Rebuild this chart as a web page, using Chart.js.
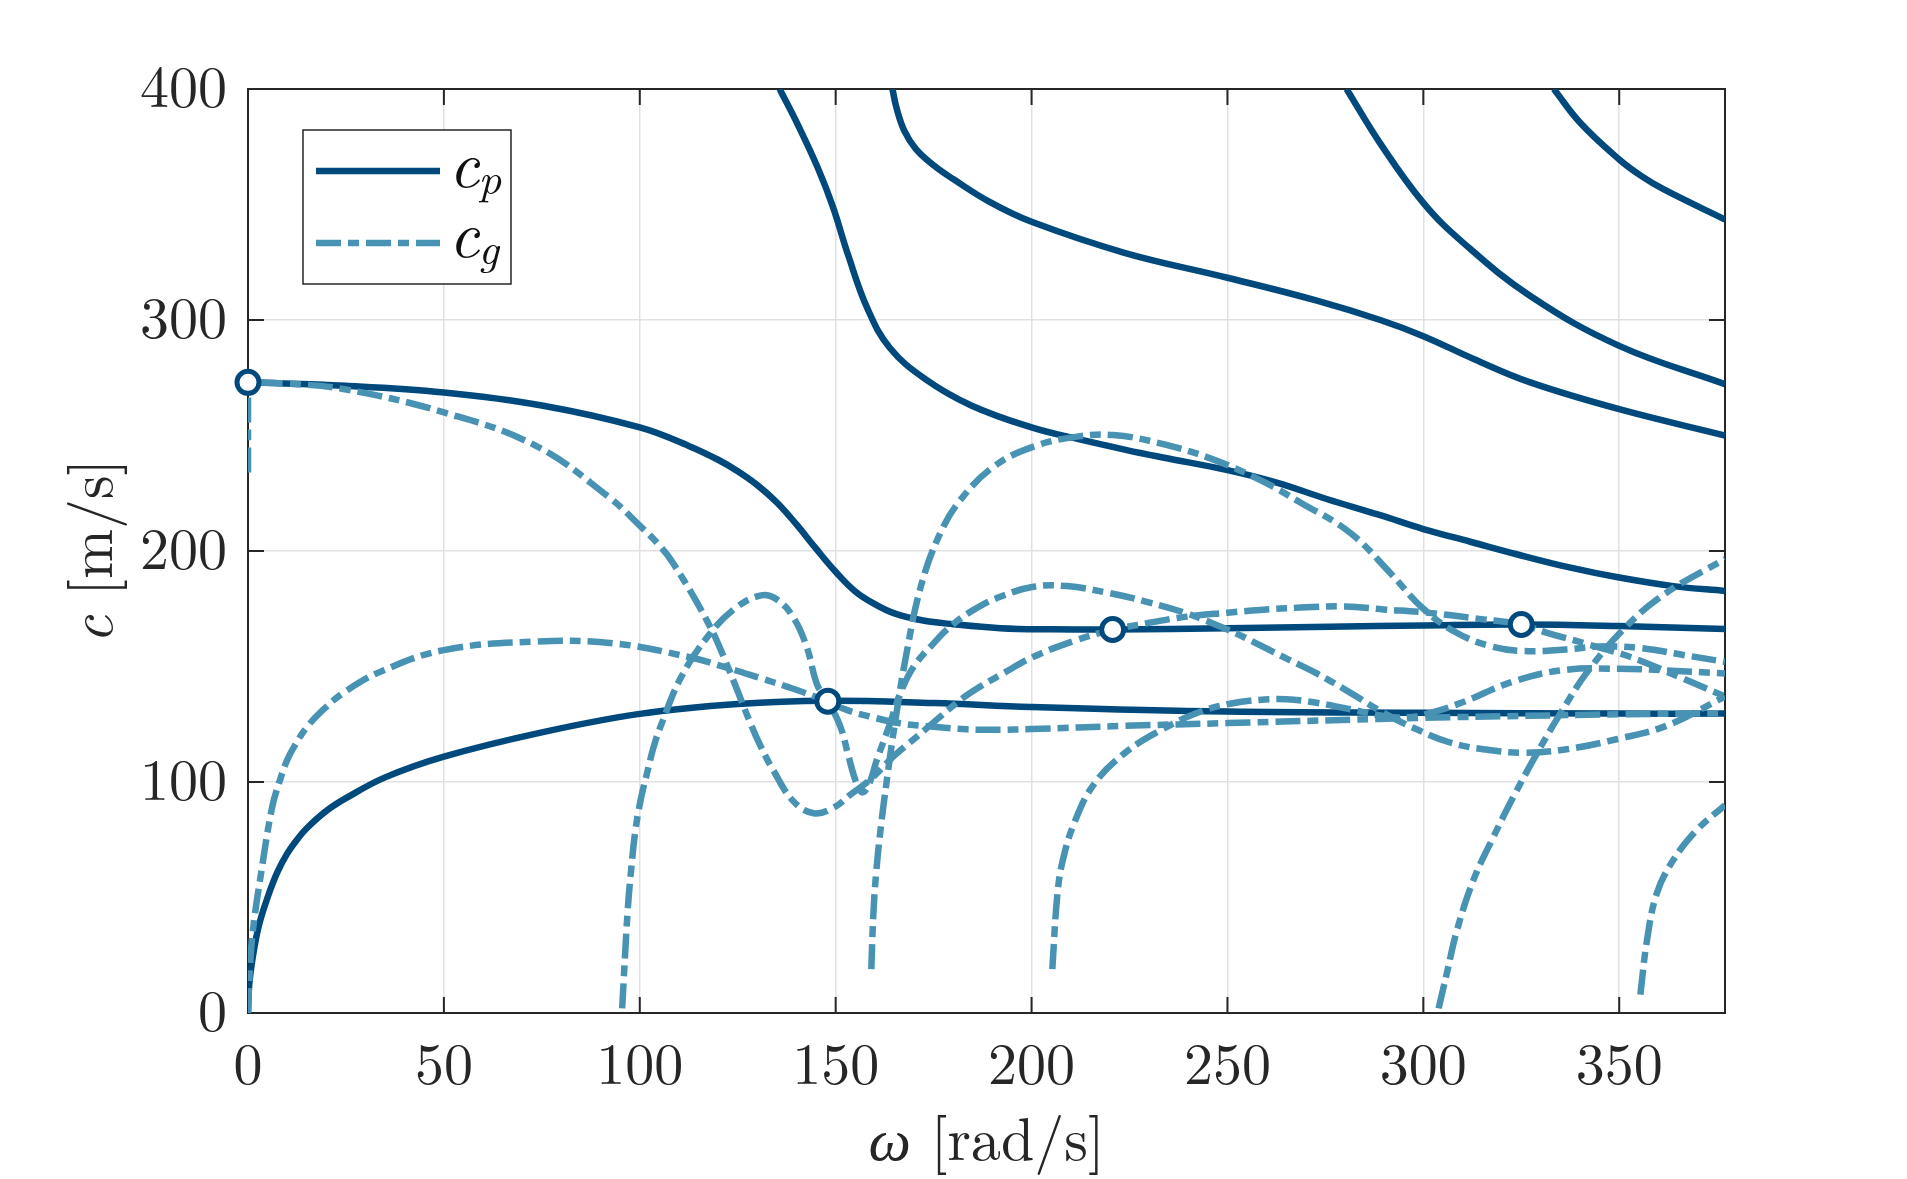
<!DOCTYPE html>
<html>
<head>
<meta charset="utf-8">
<title>Phase and group velocity</title>
<script src="https://cdn.jsdelivr.net/npm/chart.js@4.4.1/dist/chart.umd.min.js"></script>
<style>
  html, body { margin: 0; padding: 0; background: #fff; }
  canvas { display: block; }
</style>
</head>
<body>
<canvas id="velocityChart" width="1907" height="1179"></canvas>
<script>
// phase velocity branches c_p, pairs of [omega, c]
const cp1 = [[0,0],[0.3,12],[1.3,25],[2.8,38],[5.2,51],[7.5,61],[10,69],[12.5,75],[15,80],[20,87.5],[25,93],[35,102],[50,111],[75,121.5],[100,129.5],[125,133.8],[148,135.2],[175,134.2],[200,132.5],[250,130.5],[300,130],[350,129.6],[377,129.6]];
const cp2 = [[0,273],[25,271.5],[50,268.6],[75,263],[100,253.5],[112.5,245.5],[120,239.5],[125,234.5],[130,228.5],[135,221],[140,211.5],[145,201],[150,191],[155,182.5],[160,177],[165,173],[172,170],[180,168.3],[192,166.6],[205,166.1],[221,166],[250,166.6],[276,167.2],[300,167.8],[325,168.2],[350,167.5],[377,166.2]];
const cp3 = [[135.7,400],[140.5,384],[145.4,366],[149.3,349],[153.2,328],[158.1,305],[163.8,288],[172.8,274.5],[184.6,263],[200,253.5],[212,248.4],[224.3,243.7],[233.5,240.5],[250,235],[262.8,229.5],[275.3,222.5],[289,215.5],[300,209.5],[312,204],[323.8,198.6],[337,193],[350,188.5],[363.8,184.8],[377,182.7]];
const cp4 = [[164.5,400],[165.5,392],[167.5,382],[170.5,374],[175,367],[180,361],[189.4,351],[200,342.5],[223.7,329.1],[250,318.3],[272.6,308.5],[289,300],[300,293],[313,283],[327.3,273],[350,261.4],[377,250]];
const cp5 = [[280.4,400],[288.9,376.7],[300,350.7],[310.2,333.4],[327.3,310.4],[350,288.8],[377,272.2]];
const cp6 = [[333.3,400],[340.1,385.3],[350,369.5],[355.5,362.5],[361.4,356.5],[377,343.5]];

// group velocity branches c_g
const cg1 = [[0,234],[0,273],[0.2,273],[10,272.5],[24.7,270],[50,260],[73.5,245.5],[92,223.5],[100,211],[104.7,203],[108.6,194.5],[117.4,169],[122.2,151],[128.1,126],[130.7,116],[134.1,105],[139.3,91.5],[144.4,86.5],[149.5,88.9],[153.8,94.6],[158.8,101],[164.7,111],[170.7,119.6],[176.7,128.3],[181.8,135.5],[186.9,141.3],[192,146.3],[200.5,154.2],[211.6,161.5],[220.5,165.8],[229.4,168.7],[239.6,171.6],[250.1,173.3],[258.4,174.5],[268.6,175.5],[280,176],[289.8,174.7],[300,173.5],[315.3,170.4],[325,168.2],[331.6,164.6],[341,160.1],[352.9,154.1],[365.7,145.2],[377,137]];
const cg2 = [[0,0],[0.5,20],[1.3,36.5],[3.2,59],[6.1,88.6],[8,100],[10,109.5],[12,116],[14.9,123.5],[19,131],[24.7,139],[34.4,148.2],[50,157.1],[73.5,160.8],[93,160.1],[112.5,154.1],[122.2,149.5],[130.7,145],[137.5,141.3],[144.8,136.9],[152.8,131.2],[158.8,128.3],[166.5,125.4],[175,123.9],[183.5,122.8],[192,122.6],[200,122.9],[223.7,124.3],[250,125.5],[289,127.3],[300,127.8],[350,129.3],[377,129.8]];
const cg3 = [[95.5,2],[96.9,44],[97.8,62],[98.8,78],[100.2,92],[101.8,103.5],[103.6,115.5],[105.7,125.8],[110.5,145.2],[117.4,163.1],[124.2,175],[131,180.8],[135,179],[139.3,171],[142.7,158],[145.3,142],[148,135],[151.2,124],[153.3,111],[155.2,100],[156.8,95.5],[158.5,99],[160.5,109.5],[163.9,125.4],[166.5,138.4],[169.9,149.9],[175,160],[179.2,167.2],[185.2,174.5],[192,180.2],[200.5,184.5],[209,184.8],[220.1,181.7],[229.4,178],[239.6,173],[250,166],[258,159.5],[265,153.5],[272.8,147],[281.3,138.7],[289.8,130],[298.3,122.8],[306.8,117.1],[315.3,114.2],[325.5,112.7],[336.6,114.2],[349.3,118.5],[362,124.3],[377,137]];
const cg4 = [[159.1,19],[159.6,42],[160.3,60],[161.5,80],[163,100],[165,124],[167.9,154],[171.8,185],[176.7,207.7],[181.8,222],[190.3,236.5],[200.5,245.2],[211.6,249.5],[220.9,250.2],[232.8,246.6],[245.6,240.1],[258.4,230.7],[268.6,221],[281.3,207.9],[291.5,190.6],[300,175],[308.5,164.6],[317,158.9],[325.5,156.7],[336.6,157.4],[345.1,158.7],[355.3,158],[366.3,155],[377,152]];
const cg5 = [[303.9,2],[306,17.2],[308.6,35.9],[312.8,57.6],[317.9,76.3],[323,93.6],[329,112.4],[335,129.7],[342,148],[351.9,167.5],[362.1,182],[377,196.5]];
const cg6 = [[205.3,19],[206.6,51.4],[208,66.3],[211,82.7],[215.9,99],[223.7,112.4],[233.5,122.9],[243.2,130.5],[251,134],[258,135.5],[265,135.8],[272,134.5],[281.3,131.5],[289.8,128.6],[296,128],[302,130],[310,134.5],[323,143.5],[336,148.5],[350,149],[362,148.3],[377,147]];
const cg7 = [[355.4,8],[357.1,31.6],[359.6,51.8],[363.8,66.2],[369.8,79.2],[377,90]];

// points where c_g = c_p
const markerOmega = [0, 148, 220.7, 325];
const markerSpeed = [273, 135, 166, 168.2];

const xTicks = [0, 50, 100, 150, 200, 250, 300, 350];
const yTicks = [0, 100, 200, 300, 400];
const omegaMax = 377;

const darkBlue = '#00497c';
const lightBlue = '#4892b4';
const axisColor = '#262626';
const gridColor = '#e1e1e1';
const serif = "'Latin Modern Roman', 'Liberation Serif', 'DejaVu Serif', serif";
const dashDot = [25, 7, 11, 7];
const lineW = 6.5;

function toPoints(arr) {
    return arr.map(p => ({ x: p[0], y: p[1] }));
}

const solidSets = [cp1, cp2, cp3, cp4, cp5, cp6].map(d => ({
    data: toPoints(d),
    borderColor: darkBlue,
    borderWidth: lineW,
    pointRadius: 0,
    fill: false,
    tension: 0.4
}));

const dashedSets = [cg1, cg2, cg3, cg4, cg5, cg6, cg7].map(d => ({
    data: toPoints(d),
    borderColor: lightBlue,
    borderWidth: lineW,
    borderDash: dashDot,
    pointRadius: 0,
    fill: false,
    tension: 0.4
}));

const markerSet = {
    data: markerOmega.map((x, i) => ({ x: x, y: markerSpeed[i] })),
    showLine: false,
    pointRadius: 11,
    pointBorderWidth: 5,
    pointBackgroundColor: '#ffffff',
    pointBorderColor: darkBlue,
    clip: false
};

// box, inward ticks, axis titles and legend (MATLAB look)
const framePlugin = {
    id: 'frame',
    beforeDatasetsDraw(chart) {
        const { ctx, chartArea: a, scales } = chart;
        ctx.save();
        ctx.strokeStyle = axisColor;
        ctx.lineWidth = 2;
        ctx.strokeRect(a.left, a.top, a.right - a.left, a.bottom - a.top);
        ctx.beginPath();
        xTicks.forEach(v => {
            const px = scales.x.getPixelForValue(v);
            ctx.moveTo(px, a.bottom); ctx.lineTo(px, a.bottom - 16);
            ctx.moveTo(px, a.top); ctx.lineTo(px, a.top + 16);
        });
        yTicks.forEach(v => {
            const py = scales.y.getPixelForValue(v);
            ctx.moveTo(a.left, py); ctx.lineTo(a.left + 16, py);
            ctx.moveTo(a.right, py); ctx.lineTo(a.right - 16, py);
        });
        ctx.stroke();
        ctx.restore();
    },
    afterDraw(chart) {
        const { ctx, chartArea: a } = chart;
        ctx.save();
        ctx.fillStyle = axisColor;
        ctx.textBaseline = 'alphabetic';

        // x title: ω [rad/s]
        const italic = 'italic 60px ' + serif;
        const roman = '60px ' + serif;
        ctx.font = italic;
        const wOmega = ctx.measureText('ω').width;
        ctx.font = roman;
        const wRest = ctx.measureText(' [rad/s]').width;
        const x0 = (a.left + a.right) / 2 - (wOmega + wRest) / 2;
        ctx.font = italic;
        ctx.fillText('ω', x0, 1160);
        ctx.font = roman;
        ctx.fillText(' [rad/s]', x0 + wOmega, 1160);

        // y title: c [m/s]
        ctx.save();
        ctx.translate(112, (a.top + a.bottom) / 2);
        ctx.rotate(-Math.PI / 2);
        ctx.font = italic;
        const wC = ctx.measureText('c').width;
        ctx.font = roman;
        const wUnit = ctx.measureText(' [m/s]').width;
        const y0 = -(wC + wUnit) / 2;
        ctx.font = italic;
        ctx.fillText('c', y0, 0);
        ctx.font = roman;
        ctx.fillText(' [m/s]', y0 + wC, 0);
        ctx.restore();

        // legend
        ctx.fillStyle = '#ffffff';
        ctx.fillRect(303, 130, 208, 154);
        ctx.strokeStyle = axisColor;
        ctx.lineWidth = 1.5;
        ctx.strokeRect(303, 130, 208, 154);

        ctx.lineWidth = lineW;
        ctx.strokeStyle = darkBlue;
        ctx.beginPath(); ctx.moveTo(316, 171); ctx.lineTo(440, 171); ctx.stroke();
        ctx.strokeStyle = lightBlue;
        ctx.setLineDash(dashDot);
        ctx.beginPath(); ctx.moveTo(316, 243); ctx.lineTo(440, 243); ctx.stroke();
        ctx.setLineDash([]);

        ctx.fillStyle = '#111111';
        const entries = [['p', 187], ['g', 257]];
        entries.forEach(([sub, base]) => {
            ctx.font = 'italic 66px ' + serif;
            ctx.fillText('c', 449, base);
            const cw = ctx.measureText('c').width;
            ctx.font = 'italic 45px ' + serif;
            ctx.fillText(sub, 449 + cw - 1, base + 7);
        });
        ctx.restore();
    }
};

const ctx = document.getElementById('velocityChart');
new Chart(ctx, {
    type: 'line',
    data: { datasets: [markerSet, ...dashedSets, ...solidSets] },
    options: {
        responsive: false,
        devicePixelRatio: 1,
        animation: false,
        layout: { padding: { left: 0, right: 182, top: 89, bottom: 0 } },
        plugins: { legend: { display: false }, tooltip: { enabled: false } },
        scales: {
            x: {
                type: 'linear',
                min: 0,
                max: omegaMax,
                afterBuildTicks: s => { s.ticks = xTicks.map(v => ({ value: v })); },
                afterFit: s => { s.height = 166; },
                grid: { color: gridColor, lineWidth: 1.5, drawTicks: false },
                border: { display: false },
                ticks: { font: { family: serif, size: 58 }, color: axisColor, padding: 18, maxRotation: 0, autoSkip: false }
            },
            y: {
                type: 'linear',
                min: 0,
                max: 400,
                afterBuildTicks: s => { s.ticks = yTicks.map(v => ({ value: v })); },
                afterFit: s => { s.width = 248; },
                grid: { color: gridColor, lineWidth: 1.5, drawTicks: false },
                border: { display: false },
                ticks: { font: { family: serif, size: 58 }, color: axisColor, padding: 21, autoSkip: false }
            }
        }
    },
    plugins: [framePlugin]
});
</script>
</body>
</html>
